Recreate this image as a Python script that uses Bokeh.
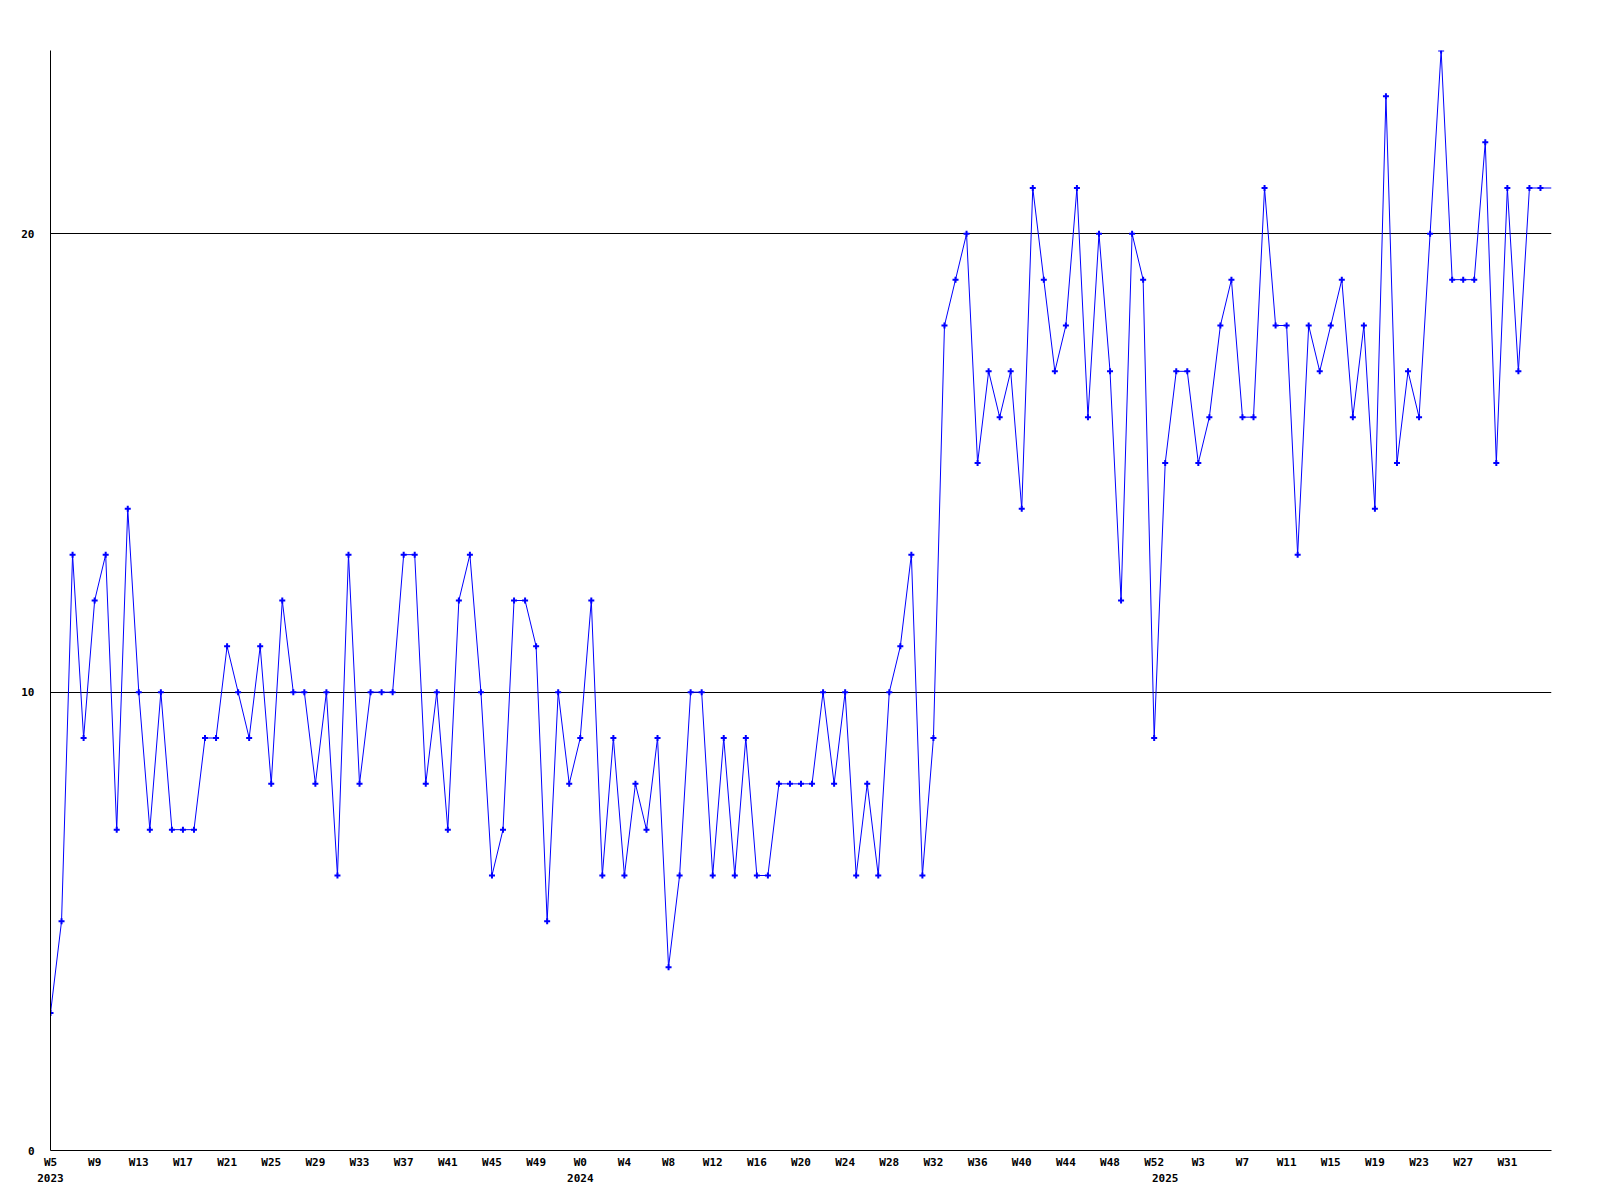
from bokeh.plotting import figure
from bokeh.models import (ColumnDataSource, FixedTicker, LinearAxis, CDSView,
                          IndexFilter, Range1d, Grid)
from bokeh.embed import file_html
from bokeh.resources import INLINE

# weekly values, 2023 W5 .. 2025 W35
values = [
    3, 5, 13, 9, 12, 13, 7, 14, 10, 7,
    10, 7, 7, 7, 9, 9, 11, 10, 9, 11,
    8, 12, 10, 10, 8, 10, 6, 13, 8, 10,
    10, 10, 13, 13, 8, 10, 7, 12, 13, 10,
    6, 7, 12, 12, 11, 5, 10, 8, 9, 12,
    6, 9, 6, 8, 7, 9, 4, 6, 10, 10,
    6, 9, 6, 9, 6, 6, 8, 8, 8, 8,
    10, 8, 10, 6, 8, 6, 10, 11, 13, 6,
    9, 18, 19, 20, 15, 17, 16, 17, 14, 21,
    19, 17, 18, 21, 16, 20, 17, 12, 20, 19,
    9, 15, 17, 17, 15, 16, 18, 19, 16, 16,
    21, 18, 18, 13, 18, 17, 18, 19, 16, 18,
    14, 23, 15, 17, 16, 20, 24, 19, 19, 19,
    22, 15, 21, 17, 21, 21, 21,
]

week_tick_idx = list(range(0, 133, 4))
week_labels = ["W5", "W9", "W13", "W17", "W21", "W25", "W29", "W33", "W37",
               "W41", "W45", "W49", "W0", "W4", "W8", "W12", "W16", "W20",
               "W24", "W28", "W32", "W36", "W40", "W44", "W48", "W52", "W3",
               "W7", "W11", "W15", "W19", "W23", "W27", "W31"]
year_tick_idx = [0, 48, 101]
year_labels = ["2023", "2024", "2025"]
y_ticks = [0, 10, 20]
y_grid = [10, 20]

x = list(range(len(values)))
src = ColumnDataSource(dict(x=x, y=values))

FONT = "DejaVu Sans Mono"

p = figure(frame_width=1501, frame_height=1100,
           x_range=Range1d(0, len(values) - 1), y_range=Range1d(0, 24),
           output_backend="svg", toolbar_location=None,
           x_axis_location=None, y_axis_location=None,
           min_border_left=50, min_border_top=50, min_border_right=41,
           min_border_bottom=42)
p.outline_line_color = None
p.background_fill_color = "white"
p.border_fill_color = "white"
p.xgrid.visible = False
p.ygrid.visible = False

def style_axis(ax):
    ax.major_tick_out = 0
    ax.major_tick_in = 0
    ax.minor_tick_out = 0
    ax.minor_tick_in = 0
    ax.major_label_text_font = FONT
    ax.major_label_text_font_style = "bold"
    ax.major_label_text_font_size = "11px"
    ax.major_label_text_color = "black"
    ax.axis_line_color = "black"
    ax.axis_line_width = 1

yax = LinearAxis(ticker=FixedTicker(ticks=y_ticks))
style_axis(yax)
yax.major_label_standoff = 16
p.add_layout(yax, "left")

xax = LinearAxis(ticker=FixedTicker(ticks=week_tick_idx),
                 major_label_overrides={i: l for i, l in zip(week_tick_idx, week_labels)})
style_axis(xax)
xax.major_label_standoff = 5
p.add_layout(xax, "below")

yrax = LinearAxis(ticker=FixedTicker(ticks=year_tick_idx),
                  major_label_overrides={i: l for i, l in zip(year_tick_idx, year_labels)})
style_axis(yrax)
yrax.axis_line_color = None
yrax.major_label_standoff = 2
p.add_layout(yrax, "below")

p.add_layout(Grid(dimension=1, ticker=FixedTicker(ticks=y_grid),
                  grid_line_color="black", grid_line_width=1))

p.line("x", "y", source=src, line_color="#0000ff", line_width=1)
view = CDSView(filter=IndexFilter(list(range(len(values) - 1))))
p.scatter("x", "y", source=src, view=view, marker="cross", size=6,
          line_width=2, line_color="#0000ff")

open("out.html", "w").write(file_html(p, INLINE))
